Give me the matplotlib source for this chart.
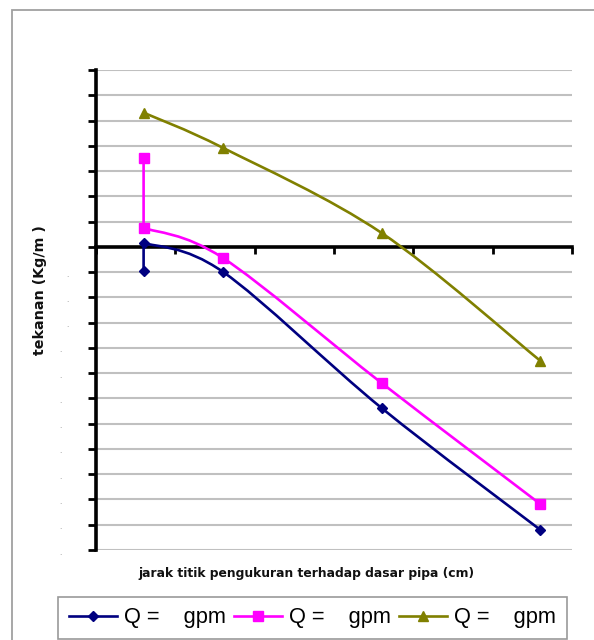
import numpy as np
import matplotlib
matplotlib.use("Agg")
import matplotlib.pyplot as plt
from matplotlib.path import Path
from matplotlib.patches import PathPatch, Rectangle
from matplotlib.lines import Line2D
from matplotlib.transforms import blended_transform_factory

plt.rcParams['font.family'] = ['Liberation Sans', 'DejaVu Sans']

# ---- data ----
series_labels = ["Q =    gpm", "Q =    gpm", "Q =    gpm"]
blue_x = [6, 6, 16, 36, 56]
blue_y = [-0.95, 0.16, -0.99, -6.38, -11.2]
pink_x = [6, 6, 16, 36, 56]
pink_y = [3.52, 0.75, -0.44, -5.39, -10.18]
olive_x = [6, 16, 36, 56]
olive_y = [5.31, 3.92, 0.55, -4.51]
y_ticks = list(range(-12, 8))
x_ticks = [0, 10, 20, 30, 40, 50, 60]
xlabel = "jarak titik pengukuran terhadap dasar pipa (cm)"
ylabel = "tekanan (Kg/m )"

colors = ["#000080", "#FF00FF", "#808000"]
markers = ["D", "s", "^"]
msizes = [5, 7, 6.5]


def smooth_path(xs, ys, straight_first):
    """Excel-like smoothed line (Catmull-Rom Bezier) in data coords."""
    pts = np.column_stack([xs, ys]).astype(float)
    verts = [tuple(pts[0])]
    codes = [Path.MOVETO]
    start = 0
    if straight_first:
        verts.append(tuple(pts[1]))
        codes.append(Path.LINETO)
        start = 1
    p = pts[start:]
    n = len(p)
    for i in range(n - 1):
        p0 = p[i - 1] if i > 0 else p[i]
        p1 = p[i]
        p2 = p[i + 1]
        p3 = p[i + 2] if i + 2 < n else p[i + 1]
        c1 = p1 + (p2 - p0) / 6.0
        c2 = p2 - (p3 - p1) / 6.0
        verts += [tuple(c1), tuple(c2), tuple(p2)]
        codes += [Path.CURVE4] * 3
    return Path(verts, codes)


fig = plt.figure(figsize=(5.94, 6.4), dpi=100)
fig.patch.set_facecolor("white")

# outer chart frame
fig.patches.append(Rectangle((12 / 594, -0.1), 1.2, 1 - 10 / 640 + 0.1,
                             transform=fig.transFigure, fill=False,
                             edgecolor="#a0a0a0", linewidth=1.3, zorder=0))

ax = fig.add_axes([96 / 594, 1 - 550 / 640, (572 - 96) / 594, (550 - 70) / 640])
ax.set_xlim(0, 60)
ax.set_ylim(-12, 7)

for s in ["top", "right"]:
    ax.spines[s].set_visible(False)
ax.spines["left"].set_linewidth(2.6)
ax.spines["bottom"].set_position(("data", 0))
ax.spines["bottom"].set_linewidth(2.6)
ax.spines["bottom"].set_zorder(3)

ax.set_yticks(y_ticks)
ax.set_yticklabels([])
ax.tick_params(axis="y", direction="out", length=6, width=2, color="black")
ax.set_xticks(x_ticks)
ax.set_xticklabels([])
ax.tick_params(axis="x", direction="out", length=5, width=2, color="black")

for yv in y_ticks:
    ax.axhline(yv, color="#c0c0c0", linewidth=1.5, zorder=1)

# faint remnants of tick labels
trans = blended_transform_factory(ax.transAxes, ax.transData)
for yv in y_ticks:
    if yv < 0:
        xpos = -29 / 476 if yv >= -3 else -36 / 476
        ax.text(xpos, yv - 0.12, ".", transform=trans, fontsize=6,
                color="#888888", ha="center", va="center")

data = [(blue_x, blue_y, True), (pink_x, pink_y, True), (olive_x, olive_y, False)]
handles = []
for (xs, ys, sf), c, m, ms, lab in zip(data, colors, markers, msizes, series_labels):
    path = smooth_path(xs, ys, sf)
    ax.add_patch(PathPatch(path, facecolor="none", edgecolor=c, linewidth=1.9,
                           zorder=4, capstyle="round", joinstyle="round"))
    ax.plot(xs, ys, linestyle="none", marker=m, markersize=ms, color=c, zorder=5)
    handles.append(Line2D([], [], color=c, linewidth=1.9, marker=m, markersize=ms,
                          label=lab))

fig.text(307 / 594, 1 - 573 / 640, xlabel, ha="center", va="center",
         fontsize=8.9, fontweight="bold", family="DejaVu Sans", color="#111111")
fig.text(40 / 594, 1 - 290 / 640, ylabel, ha="center", va="center",
         rotation=90, fontsize=10.3, fontweight="bold", family="DejaVu Sans",
         color="#111111")

leg = fig.legend(handles=handles, loc="center", ncol=3,
                 bbox_to_anchor=(312.5 / 594, 1 - 618 / 640),
                 fontsize=15.7, frameon=True, fancybox=False,
                 handlelength=2.2, handletextpad=0.3, columnspacing=0.4,
                 borderpad=0.5, borderaxespad=0)
leg.get_frame().set_edgecolor("#808080")
leg.get_frame().set_linewidth(1.2)

fig.savefig("out.png", dpi=100, facecolor="white")
